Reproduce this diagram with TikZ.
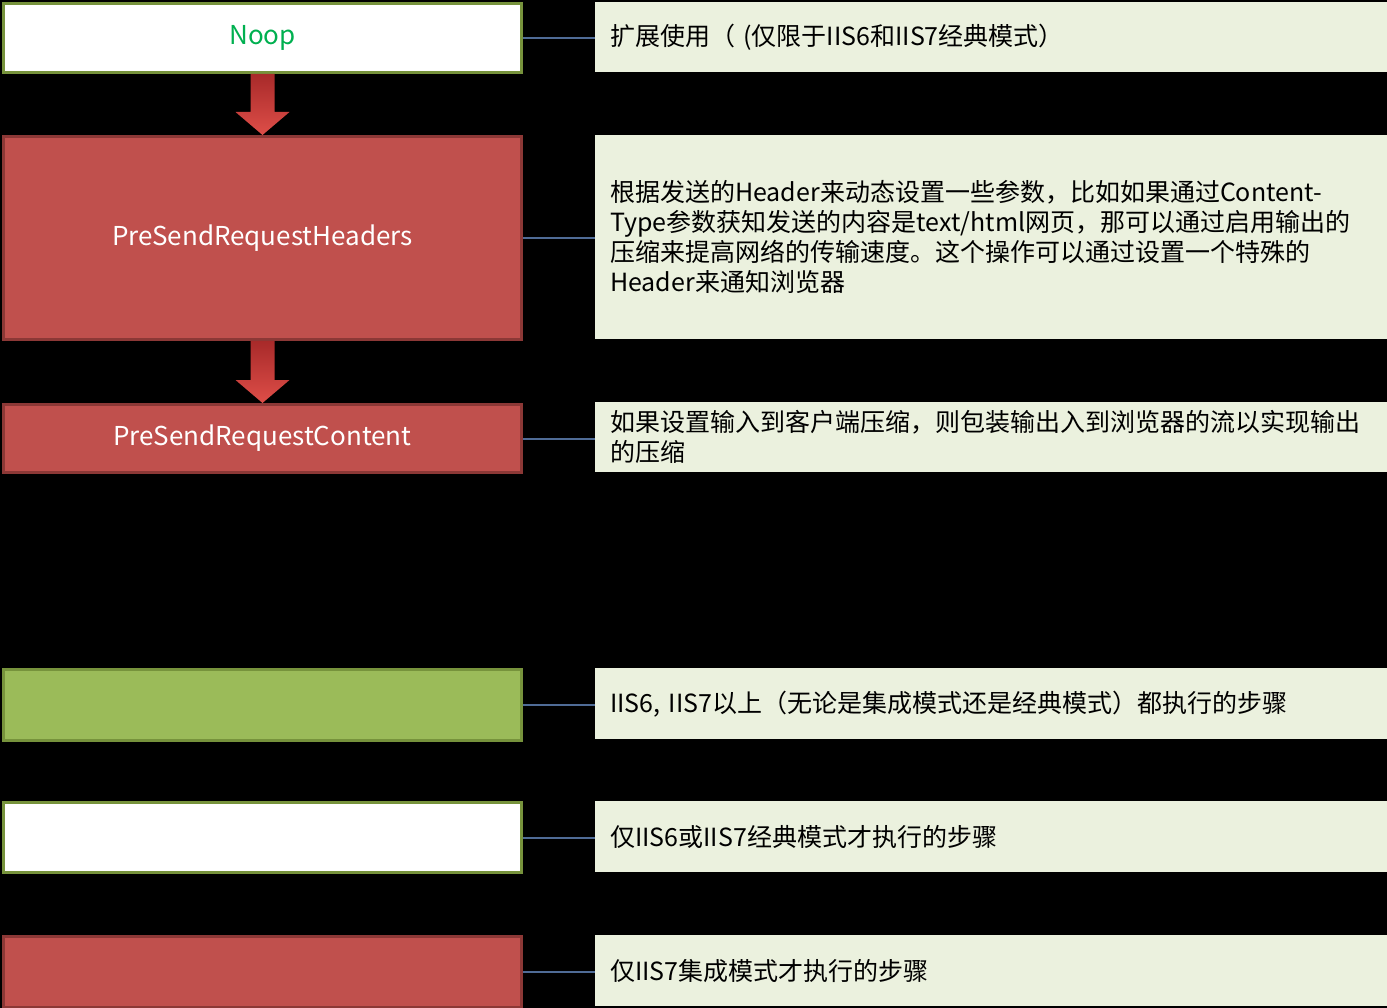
\documentclass[tikz,border=0pt]{standalone}
\usepackage{fontspec}
\setmainfont{Noto Sans CJK SC}
\usetikzlibrary{positioning,calc}
\definecolor{stepred}{RGB}{192,80,77}
\definecolor{stepredline}{RGB}{140,56,54}
\definecolor{stepgreen}{RGB}{155,187,89}
\definecolor{stepgreenline}{RGB}{119,147,60}
\definecolor{notefill}{RGB}{235,241,222}
\definecolor{linkblue}{RGB}{79,107,150}
\definecolor{noopgreen}{RGB}{0,176,80}

\begin{document}
\begin{tikzpicture}[x=1pt,y=-1pt,
 event/.style={draw, line width=3pt, minimum width=518pt, anchor=north west,
   inner sep=0pt, font=\fontsize{26}{30}\selectfont},
 extstep/.style={event, fill=white, draw=stepgreenline, text=noopgreen},
 allstep/.style={event, fill=stepgreen, draw=stepgreenline},
 intstep/.style={event, fill=stepred, draw=stepredline, text=white},
 note/.style={fill=notefill, anchor=north west, text width=762pt, inner xsep=15pt,
   inner ysep=0pt, align=left, font=\fontsize{25}{30}\selectfont},
 link/.style={draw=linkblue, line width=2pt},
 flowarrow/.style={top color={rgb,255:red,168;green,42;blue,42},
   bottom color={rgb,255:red,222;green,78;blue,72}}
]

\fill[black] (0,0) rectangle (1387,1008);
\useasboundingbox (0,0) rectangle (1387,1008);

% pipeline steps
\node (noop) at (2,2) [extstep, minimum height=69pt] {Noop};
\node (hdrs) at (2,135) [intstep, minimum height=203pt] {PreSendRequestHeaders};
\node (cont) at (2,403) [intstep, minimum height=68pt] {PreSendRequestContent};

% legend
\node (legA) at (2,668) [allstep, minimum height=71pt] {};
\node (legB) at (2,801) [extstep, minimum height=70pt] {};
\node (legC) at (2,935) [intstep, minimum height=71pt] {};

% notes on the right
\node (noopnote) at (595,2) [note, minimum height=70pt]
 {扩展使用（ (仅限于IIS6和IIS7经典模式）};
\node (hdrsnote) at (595,135) [note, minimum height=204pt]
 {根据发送的Header来动态设置一些参数，比如如果通过Content-\\
  Type参数获知发送的内容是text/html网页，那可以通过启用输出的\\
  压缩来提高网络的传输速度。这个操作可以通过设置一个特殊的\\
  Header来通知浏览器};
\node (contnote) at (595,402) [note, minimum height=70pt]
 {如果设置输入到客户端压缩，则包装输出入到浏览器的流以实现输出\\
  的压缩};
\node (legAnote) at (595,668) [note, minimum height=71pt]
 {IIS6, IIS7以上（无论是集成模式还是经典模式）都执行的步骤};
\node (legBnote) at (595,801) [note, minimum height=71pt]
 {仅IIS6或IIS7经典模式才执行的步骤};
\node (legCnote) at (595,935) [note, minimum height=71pt]
 {仅IIS7集成模式才执行的步骤};

% links
\foreach \n in {noop, hdrs, cont, legA, legB, legC}
 \draw[link] (\n.east) -- (\n note.west |- \n.east);

% block arrows between steps
\foreach \a/\b in {noop/hdrs, hdrs/cont}
 \path[flowarrow] let \p1=(\a.south), \p2=(\b.north) in
  (\x1-12pt,\y1) -- (\x1-12pt,\y2+23pt) -- (\x1-27pt,\y2+23pt) -- (\x2,\y2)
  -- (\x1+27pt,\y2+23pt) -- (\x1+12pt,\y2+23pt) -- (\x1+12pt,\y1) -- cycle;

\end{tikzpicture}
\end{document}
